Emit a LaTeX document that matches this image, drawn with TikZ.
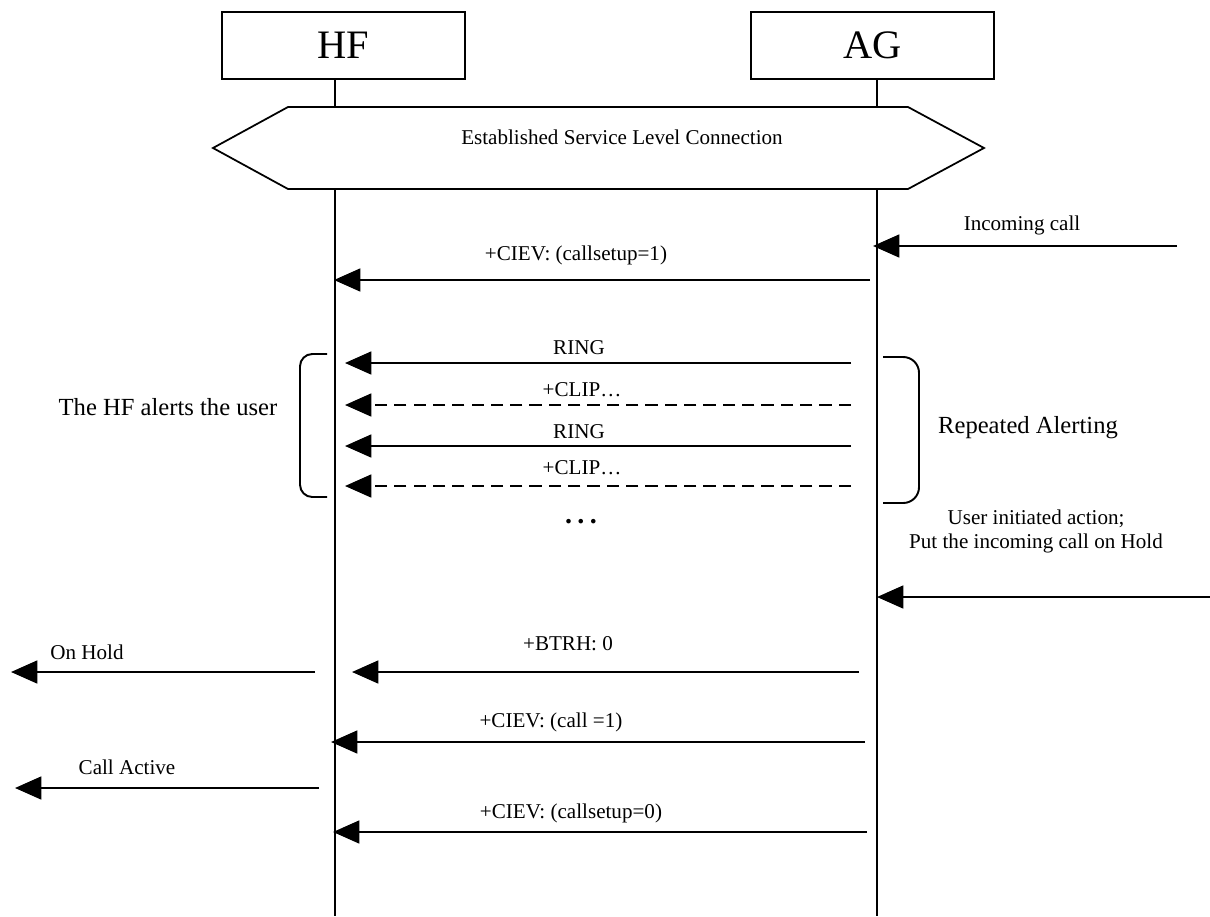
\documentclass[tikz,border=0pt]{standalone}
\usepackage{fontspec}
\setmainfont{Liberation Serif}
\usetikzlibrary{arrows.meta}

\begin{document}
\begin{tikzpicture}[x=0.02cm, y=-0.02cm, >={Triangle[length=15pt,width=13pt]},
  entity/.style={draw, line width=1pt, minimum width=4.86cm, minimum height=1.34cm, font=\fontsize{23}{26}\selectfont},
  life/.style={line width=1.1pt},
  msg/.style={->, line width=1.3pt},
  dmsg/.style={msg, dash pattern=on 7pt off 4pt},
  lbl/.style={font=\fontsize{12}{14}\selectfont, inner sep=0pt},
  big/.style={font=\fontsize{14}{16}\selectfont, inner sep=0pt}]
\useasboundingbox (0,0) rectangle (1210,916);

% entities and lifelines
\node[entity] (hf) at (343.5,45.5) {HF};
\node[entity] (ag) at (872.5,45.5) {AG};
\coordinate (hftop) at (335,79);
\coordinate (hfbot) at (335,916);
\coordinate (agtop) at (877,79);
\coordinate (agbot) at (877,916);
\draw[life] (hftop) -- (hfbot);
\draw[life] (agtop) -- (agbot);

% service level connection
\filldraw[fill=white, line width=1pt] (213,148) -- (288,107) -- (908,107) -- (984,148) -- (908,189) -- (288,189) -- cycle;
\node[lbl] (slc) at (622,137) {Established Service Level Connection};

% messages
\foreach \xa/\xb/\py/\st [count=\i] in {1177/873/246/msg, 870/334/280/msg,
    851/345/363/msg, 851/345/405/dmsg, 851/345/446/msg, 851/345/486/dmsg,
    1210/877/597/msg, 859/352/672/msg, 315/11/672/msg,
    865/331/742/msg, 319/15/788/msg, 867/333/832/msg} {
  \coordinate (s\i) at (\xa,\py);
  \coordinate (e\i) at (\xb,\py);
  \draw[\st] (s\i) -- (e\i);
}

% labels
\foreach \nm/\px/\py/\txt in {inc/1022/225/Incoming call, csu1/576/255/{+CIEV: (callsetup=1)},
    ring1/579/348/RING, clip1/582/390/+CLIP…, ring2/579/432/RING, clip2/582/468/+CLIP…,
    btrh/568/644/+BTRH: 0, onhold/87/652/On Hold, call1/551/722/{+CIEV: (call =1)},
    active/127/767/Call Active, csu0/571/813/{+CIEV: (callsetup=0)}} {
  \node[lbl] (\nm) at (\px,\py) {\txt};
}
\node[lbl, font=\fontsize{16}{18}\selectfont\bfseries] (dots) at (581,522) {.\hspace{3pt}.\hspace{3pt}.};
\node[lbl, align=center, font=\fontsize{12}{13.7}\selectfont] (user) at (1036,531) {User initiated action;\\Put the incoming call on Hold};

% alerting brackets
\draw[line width=1.1pt, rounded corners=7pt] (327,354) -- (300,354) -- (300,497) -- (327,497);
\draw[line width=1.1pt, rounded corners=9pt] (883,357) -- (919,357) -- (919,503) -- (883,503);
\node[big] (alerts) at (168,407) {The HF alerts the user};
\node[big] (repeated) at (1028,428) {Repeated Alerting};
\end{tikzpicture}
\end{document}
